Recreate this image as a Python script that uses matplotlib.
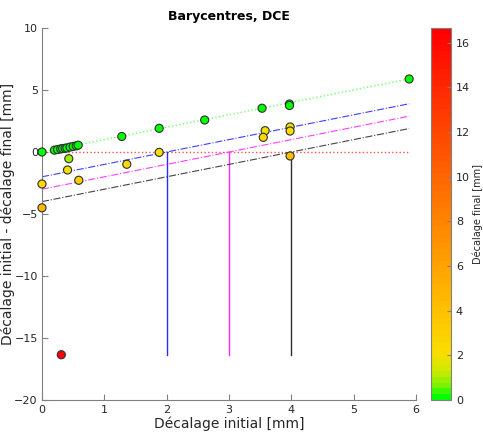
import numpy as np
import matplotlib
matplotlib.use("Agg")
import matplotlib.pyplot as plt
from matplotlib.colors import LinearSegmentedColormap, Normalize

# Data: initial offset (x) and difference initial - final (y)
x_init = [0.0, 0.0, 0.0,
          0.20, 0.25, 0.30, 0.33, 0.37, 0.40, 0.45, 0.50, 0.55, 0.58,
          0.43, 0.41, 0.59,
          1.28, 1.36, 1.88, 1.88,
          2.61,
          3.53, 3.58, 3.55,
          3.97, 3.97, 3.98, 3.98, 3.98,
          5.89,
          0.31]
y_diff = [0.0, -2.58, -4.50,
          0.15, 0.20, 0.25, 0.28, 0.30, 0.33, 0.40, 0.45, 0.50, 0.55,
          -0.54, -1.45, -2.28,
          1.25, -0.99, 1.91, -0.03,
          2.58,
          3.53, 1.72, 1.18,
          3.87, 3.75, 2.02, 1.69, -0.32,
          5.89,
          -16.35]
final_offset = [xi - yi for xi, yi in zip(x_init, y_diff)]

ref_offsets = [2, 3, 4]
ref_colors = ['#2a2aff', '#ff2aff', '#303030']

cmap = LinearSegmentedColormap.from_list(
    'gyr',
    [(0.0, (0.0, 1.0, 0.0)),
     (0.03, (0.45, 0.95, 0.0)),
     (0.07, (0.80, 0.92, 0.0)),
     (0.12, (0.98, 0.87, 0.0)),
     (0.25, (1.0, 0.74, 0.0)),
     (0.5, (1.0, 0.50, 0.0)),
     (1.0, (1.0, 0.0, 0.0))], N=64)

fig = plt.figure(figsize=(4.83, 4.34), dpi=100)
W, H = 483, 434
ax = fig.add_axes([42 / W, 1 - 400 / H, (416 - 42) / W, (400 - 28) / H])
cax = fig.add_axes([431 / W, 1 - 400 / H, (451 - 431) / W, (400 - 28) / H])

xmax = max(x_init)
ymin = min(y_diff)
xs = np.array([0.0, xmax])
ax.plot(xs, xs, linestyle=':', color='#70ff70', lw=1.0, zorder=1)
ax.plot(xs, [0, 0], linestyle=':', color='#ff5050', lw=1.0, zorder=1)
for off, c in zip(ref_offsets, ref_colors):
    ax.plot(xs, xs - off, linestyle='-.', color=c, lw=0.8, alpha=0.9, zorder=1)
    ax.plot([off, off], [0, ymin], linestyle='-', color=c, lw=1.0, zorder=1)

vmax = max(final_offset)
norm = Normalize(vmin=0, vmax=vmax)
sc = ax.scatter(x_init, y_diff, c=final_offset, cmap=cmap, norm=norm, s=34,
                edgecolors='#303030', linewidths=0.8, zorder=3, clip_on=False)

ax.set_xlim(0, 6)
ax.set_ylim(-20, 10)
ax.set_xticks(range(0, 7))
ax.set_yticks(range(-20, 11, 5))
for s in ['top', 'right']:
    ax.spines[s].set_visible(False)
for s in ['left', 'bottom']:
    ax.spines[s].set_color('#808080')
ax.tick_params(direction='in', length=4, colors='#808080', labelcolor='#262626', labelsize=8)
ax.tick_params(axis='y', pad=3)
ax.set_xlabel('Décalage initial [mm]', fontsize=10, color='#262626', labelpad=1)
ax.set_ylabel('Décalage initial - décalage final [mm]', fontsize=10, color='#262626')
ax.yaxis.set_label_coords(-0.072, 0.5)
ax.set_title('Barycentres, DCE', fontsize=9, fontweight='bold', pad=6)

cb = fig.colorbar(sc, cax=cax)
cb.set_ticks(range(0, 17, 2))
cb.ax.tick_params(direction='in', length=3, colors='#808080', labelcolor='#262626', labelsize=8)
cb.outline.set_edgecolor('#808080')
cb.set_label('Décalage final [mm]', fontsize=7, color='#262626', labelpad=2)

fig.savefig('out.png', dpi=100)
